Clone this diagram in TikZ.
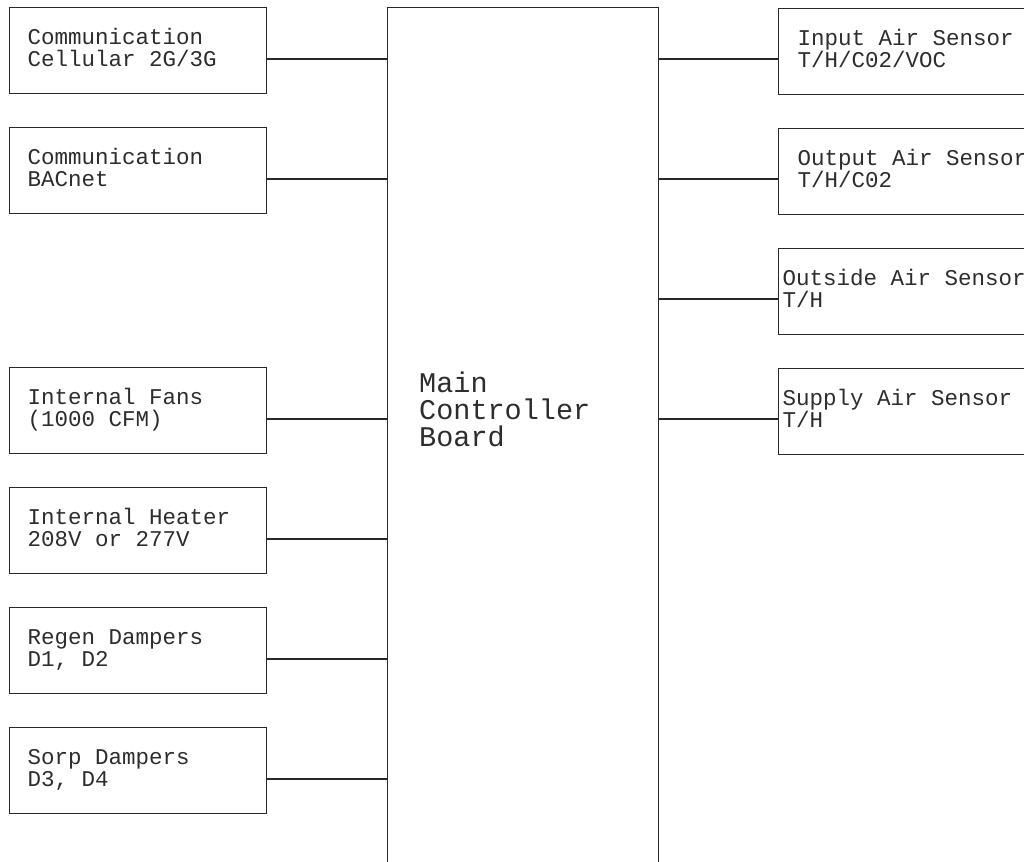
\documentclass[tikz,border=0pt]{standalone}
\usepackage{fontspec}
\setmonofont{Liberation Mono}[WordSpace={1,0,0}]
\definecolor{ink}{RGB}{40,40,40}
\definecolor{txt}{RGB}{45,45,45}
\newcommand\twoline[2]{\spaceskip=0.6em\relax\rule{0pt}{20pt}#1\\#2\rule[-10.3pt]{0pt}{10.3pt}}
\begin{document}
\begin{tikzpicture}[x=1pt,y=-1pt,
  box/.style={draw=ink, line width=1.3pt, rectangle, minimum height=86pt, align=left,
    font=\fontsize{22.5}{21.7}\selectfont\ttfamily, text=txt, inner ysep=0pt, anchor=north west},
  lbox/.style={box, text width=221pt, inner xsep=18pt},
  rbox/.style={box, text width=284pt, inner xsep=19pt},
  rboxb/.style={box, text width=314pt, inner xsep=4pt},
  wire/.style={draw=ink, line width=1.3pt},
  mainbox/.style={draw=ink, line width=1.3pt, rectangle, anchor=north west, minimum width=271pt, minimum height=950pt, inner sep=0pt},
  mainlabel/.style={align=left, anchor=north west, inner sep=0pt, text=txt, font=\fontsize{28.5}{27}\selectfont\ttfamily}
]
\clip (0,0) rectangle (1024,861);
\fill[white] (0,0) rectangle (1024,861);

\node[mainbox] (main) at (387,7) {};
\node[mainlabel] (mlabel) at (419,371.5) {Main\\Controller\\Board};

\node[lbox] (l1) at (9,7)   {\twoline{Communication}{Cellular 2G/3G}};
\node[lbox] (l2) at (9,127) {\twoline{Communication}{BACnet}};
\node[lbox] (l3) at (9,367) {\twoline{Internal Fans}{(1000 CFM)}};
\node[lbox] (l4) at (9,487) {\twoline{Internal Heater}{208V or 277V}};
\node[lbox] (l5) at (9,607) {\twoline{Regen Dampers}{D1, D2}};
\node[lbox] (l6) at (9,727) {\twoline{Sorp Dampers}{D3, D4}};

\node[rbox]  (r1) at (778,8)   {\twoline{Input Air Sensor}{T/H/C02/VOC}};
\node[rbox]  (r2) at (778,128) {\twoline{Output Air Sensor}{T/H/C02}};
\node[rboxb] (r3) at (778,248) {\twoline{Outside Air Sensor}{T/H}};
\node[rboxb] (r4) at (778,368) {\twoline{Supply Air Sensor}{T/H}};

\foreach \n in {l1,l2,l3,l4,l5,l6}
  \draw[wire] ([yshift=-52pt]\n.north east) -- ([yshift=-52pt]\n.north east -| main.west);
\foreach \n in {r1,r2,r3,r4}
  \draw[wire] ([yshift=-51pt]\n.north west) -- ([yshift=-51pt]\n.north west -| main.east);
\end{tikzpicture}
\end{document}
